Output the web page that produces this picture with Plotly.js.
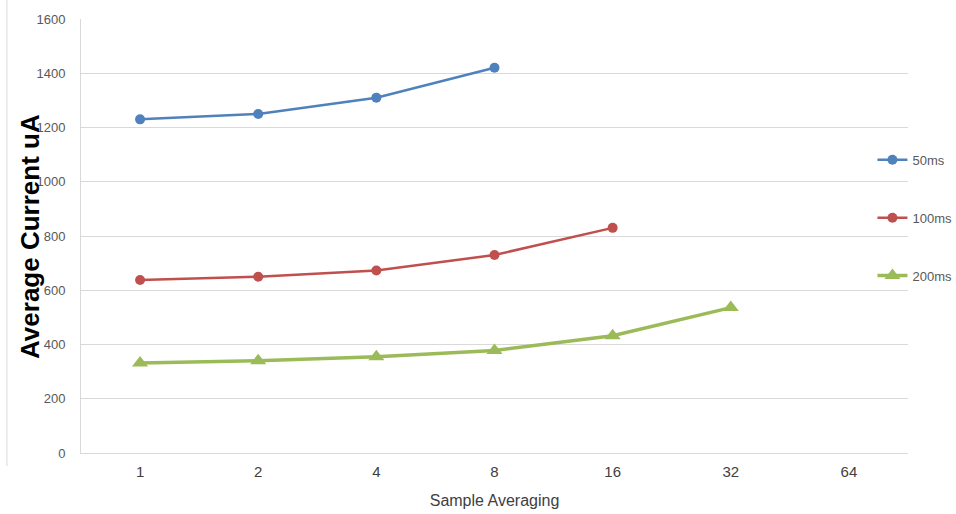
<!DOCTYPE html>
<html>
<head>
<meta charset="utf-8">
<script src="https://cdn.plot.ly/plotly-3.0.1.min.js"></script>
<style>html,body{margin:0;padding:0;background:#fff;}#chart{width:956px;height:514px;}</style>
</head>
<body>
<div id="chart"></div>
<script>
const categories = ["1", "2", "4", "8", "16", "32", "64"];
const s50 = [1230, 1250, 1310, 1420];
const s100 = [638, 650, 673, 730, 830];
const s200 = [332, 340, 355, 378, 432, 536];
const seriesNames = ["50ms", "100ms", "200ms"];
const yTicks = [0, 200, 400, 600, 800, 1000, 1200, 1400, 1600];
const yTitle = "Average Current uA";
const xTitle = "Sample Averaging";

const traces = [
  {x: categories.slice(0, s50.length), y: s50, name: seriesNames[0], legendgroup: "a",
   mode: "lines+markers", line: {color: "#4F81BD", width: 2.5}, marker: {symbol: "circle", size: 10, color: "#4F81BD"}},
  {x: categories.slice(0, s100.length), y: s100, name: seriesNames[1], legendgroup: "b",
   mode: "lines+markers", line: {color: "#C0504D", width: 2.5}, marker: {symbol: "circle", size: 10, color: "#C0504D"}},
  {x: categories.slice(0, s200.length), y: s200, name: seriesNames[2], legendgroup: "c",
   mode: "lines+markers", line: {color: "#9BBB59", width: 3.5}, marker: {symbol: "triangle-up", size: 14, color: "#9BBB59"}}
];

const layout = {
  width: 956, height: 514,
  margin: {l: 81, r: 48, t: 19, b: 61, autoexpand: false},
  paper_bgcolor: "#fff", plot_bgcolor: "#fff",
  font: {family: "Liberation Sans, Arial, sans-serif", color: "#595959"},
  showlegend: true,
  legend: {x: 0.957, y: 0.71, xanchor: "left", yanchor: "top", tracegroupgap: 38,
           font: {size: 13, color: "#595959"}, bgcolor: "rgba(0,0,0,0)"},
  xaxis: {type: "category", categoryorder: "array", categoryarray: categories, range: [-0.5, 6.5],
          showgrid: false, showline: true, linecolor: "#D9D9D9", linewidth: 1,
          ticks: "", tickfont: {size: 15, color: "#404040"}, ticklabelstandoff: 5,
          title: {text: xTitle, font: {size: 16, color: "#404040"}, standoff: 15}},
  yaxis: {range: [0, 1600], tickvals: yTicks, showgrid: true, gridcolor: "#D9D9D9", gridwidth: 1,
          showline: true, linecolor: "#D9D9D9", zeroline: false,
          ticks: "", tickfont: {size: 13, color: "#595959"}, ticklabelstandoff: 12},
  annotations: [{text: "<b>" + yTitle + "</b>", textangle: -90, xref: "paper", yref: "paper",
                 x: -0.0617, y: 0.5, xanchor: "center", yanchor: "middle", showarrow: false,
                 font: {size: 26, color: "#000", family: "Liberation Sans, Arial, sans-serif"}}],
  shapes: [{type: "line", xref: "paper", yref: "paper", x0: -0.0896, x1: -0.0896, y0: -0.03, y1: 1.05,
            line: {color: "#D9D9D9", width: 1}}]
};
Plotly.newPlot("chart", traces, layout, {displayModeBar: false});
</script>
</body>
</html>
